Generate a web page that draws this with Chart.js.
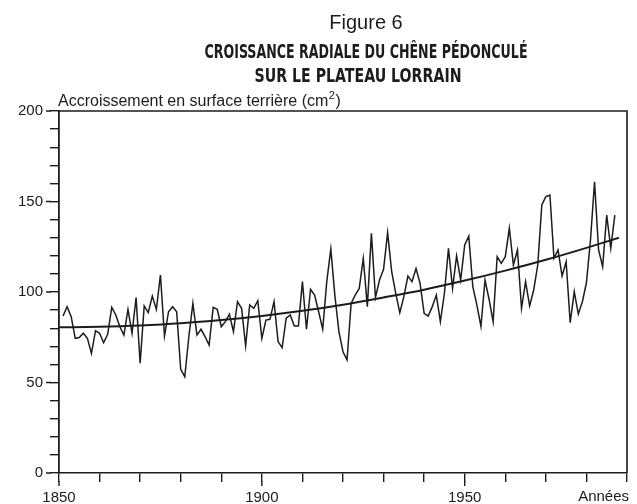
<!DOCTYPE html>
<html>
<head>
<meta charset="utf-8">
<script src="https://cdn.jsdelivr.net/npm/chart.js@4.4.1/dist/chart.umd.min.js"></script>
<style>
  html, body { margin: 0; padding: 0; background: #fff; }
  #wrap { position: relative; width: 637px; height: 504px; }
</style>
</head>
<body>
<div id="wrap"><canvas id="chart" width="637" height="504"></canvas></div>
<script>
// Accroissement annuel en surface terrière (cm2), 1851 -> 1987
const firstYear = 1851;
const growth = [
  86.7, 91.9, 86.4, 74.4, 74.8, 77.2, 74.4, 66.1, 78.6, 77.2,
  72.0, 76.6, 91.5, 87.3, 80.8, 76.2, 90.4, 77.2, 96.9, 60.6,
  92.3, 88.6, 97.8, 90.4, 109.4, 75.7, 89.1, 91.9, 89.1, 57.3,
  53.2, 75.3, 93.7, 76.2, 79.4, 75.3, 70.7, 91.5, 90.4, 80.8,
  83.6, 87.7, 78.1, 94.7, 91.0, 70.3, 92.8, 91.0, 95.2, 74.4,
  84.5, 84.9, 94.7, 72.6, 69.2, 85.5, 87.3, 81.2, 81.2, 105.7,
  79.4, 101.5, 98.3, 89.1, 79.4, 105.7, 123.8, 98.0, 78.0, 67.0,
  62.5, 93.7, 98.3, 102.0, 118.6, 91.9, 132.4, 97.0, 106.6, 112.5,
  132.8, 111.2, 99.3, 88.6, 97.4, 108.8, 105.7, 113.0, 104.8, 88.2,
  86.7, 91.9, 98.3, 83.6, 99.3, 124.1, 102.0, 119.9, 106.6, 126.0,
  130.9, 103.0, 92.8, 81.0, 106.6, 96.0, 83.6, 119.5, 115.8, 119.5,
  135.2, 114.9, 123.2, 91.0, 105.7, 92.3, 101.1, 114.9, 148.1, 152.7,
  153.6, 118.6, 123.2, 108.8, 116.7, 83.0, 100.2, 87.8, 94.6, 105.1,
  128.7, 160.9, 123.2, 114.0, 142.5, 124.1, 142.5
];
const years = growth.map((v, i) => firstYear + i);

// Courbe de tendance
const trendYears  = [1850, 1860, 1870, 1880, 1890, 1900, 1910, 1920, 1930, 1940, 1950, 1960, 1970, 1980, 1988];
const trendValues = [80.5, 80.8, 81.5, 82.7, 84.5, 86.8, 89.6, 93.0, 97.0, 101.3, 106.3, 111.8, 117.8, 124.4, 130.0];

const yLabels = [0, 50, 100, 150, 200];
const xLabels = [1850, 1900, 1950];

const ink = "#1c1c1c";
const baseFont = "'Liberation Sans', Arial, sans-serif";

function drawFitted(ctx, text, cx, baseline, width, font) {
  ctx.save();
  ctx.font = font;
  const w = ctx.measureText(text).width;
  const k = width / w;
  ctx.translate(cx, baseline);
  ctx.scale(k, 1);
  ctx.textAlign = "center";
  ctx.textBaseline = "alphabetic";
  ctx.fillText(text, 0, 0);
  ctx.restore();
}

// Cadre, graduations principales et textes de la figure
const cadrePlugin = {
  id: "cadre",
  afterDraw(chart) {
    const { ctx, chartArea: a, scales } = chart;
    ctx.save();
    ctx.strokeStyle = ink;
    ctx.lineWidth = 1.6;
    ctx.beginPath();
    ctx.moveTo(a.left, a.top);
    ctx.lineTo(a.right, a.top);
    ctx.lineTo(a.right, a.bottom);
    ctx.stroke();

    // graduations longues
    ctx.lineWidth = 1.4;
    ctx.beginPath();
    yLabels.forEach(v => {
      const y = scales.y.getPixelForValue(v);
      ctx.moveTo(a.left - 13, y);
      ctx.lineTo(a.left - 8, y);
    });
    xLabels.forEach(v => {
      const x = scales.x.getPixelForValue(v);
      ctx.moveTo(x, a.bottom + 8);
      ctx.lineTo(x, a.bottom + 13);
    });
    ctx.stroke();

    ctx.fillStyle = ink;
    ctx.font = "20px " + baseFont;
    ctx.textAlign = "center";
    ctx.fillText("Figure 6", 366, 29);

    const boldFont = "bold 19px 'Liberation Sans Narrow', 'DejaVu Sans Condensed', 'Liberation Sans', sans-serif";
    drawFitted(ctx, "CROISSANCE RADIALE DU CHÊNE PÉDONCULÉ", 366, 58, 323, boldFont);
    drawFitted(ctx, "SUR LE PLATEAU LORRAIN", 358, 82, 207, boldFont);

    // titre de l'axe vertical avec exposant
    ctx.textAlign = "left";
    ctx.font = "16px " + baseFont;
    const t1 = "Accroissement en surface terrière (cm";
    let x = 58;
    ctx.fillText(t1, x, 106);
    x += ctx.measureText(t1).width;
    ctx.font = "11px " + baseFont;
    ctx.fillText("2", x + 0.5, 99);
    x += ctx.measureText("2").width + 1;
    ctx.font = "16px " + baseFont;
    ctx.fillText(")", x, 106);

    ctx.font = "15px " + baseFont;
    ctx.textAlign = "right";
    ctx.fillText("Années", 629, 501);
    ctx.restore();
  }
};

const ctx = document.getElementById("chart").getContext("2d");
new Chart(ctx, {
  type: "line",
  data: {
    datasets: [
      {
        label: "Accroissement",
        data: years.map((yr, i) => ({ x: yr, y: growth[i] })),
        borderColor: ink,
        borderWidth: 1.5,
        pointRadius: 0,
        tension: 0,
        fill: false
      },
      {
        label: "Tendance",
        data: trendYears.map((yr, i) => ({ x: yr, y: trendValues[i] })),
        borderColor: ink,
        borderWidth: 2,
        pointRadius: 0,
        cubicInterpolationMode: "monotone",
        fill: false
      }
    ]
  },
  options: {
    responsive: false,
    animation: false,
    devicePixelRatio: 1,
    layout: { padding: { top: 111, right: 10, left: 0, bottom: 0 } },
    plugins: {
      legend: { display: false },
      tooltip: { enabled: false },
      title: { display: false }
    },
    scales: {
      x: {
        type: "linear",
        min: 1850,
        max: 1990,
        afterFit: s => { s.height = 31; },
        border: { display: true, color: ink, width: 1.6 },
        grid: { drawOnChartArea: false, drawTicks: true, tickLength: 9, color: ink, lineWidth: 1.4 },
        ticks: {
          stepSize: 10,
          autoSkip: false,
          maxRotation: 0,
          padding: 7,
          color: ink,
          font: { family: baseFont, size: 15 },
          callback: v => xLabels.includes(v) ? String(v) : ""
        }
      },
      y: {
        min: 0,
        max: 200,
        afterFit: s => { s.width = 59; },
        border: { display: true, color: ink, width: 1.8 },
        grid: { drawOnChartArea: false, drawTicks: true, tickLength: 9, color: ink, lineWidth: 1.4 },
        ticks: {
          stepSize: 10,
          autoSkip: false,
          padding: 7,
          color: ink,
          font: { family: baseFont, size: 15 },
          callback: v => yLabels.includes(v) ? String(v) : ""
        }
      }
    }
  },
  plugins: [cadrePlugin]
});
</script>
</body>
</html>
